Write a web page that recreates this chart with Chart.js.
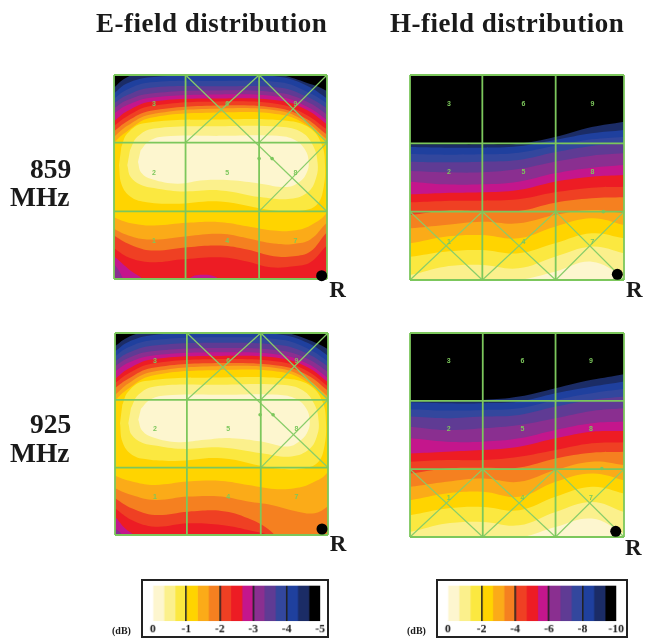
<!DOCTYPE html>
<html>
<head>
<meta charset="utf-8">
<script src="https://cdn.jsdelivr.net/npm/chart.js@4"></script>
<style>
html,body{margin:0;padding:0;background:#fff}
#page{position:relative;width:645px;height:639px;overflow:hidden;filter:blur(0.5px)}
#page canvas{position:absolute}
.t{position:absolute;font-family:"Liberation Serif",serif;font-weight:bold;color:#1a1a1a;white-space:nowrap;line-height:1}
.h{font-size:27px;letter-spacing:0.5px;top:10px}
.m{font-size:27.5px}
.box{box-sizing:border-box;border:2px solid #222}
</style>
</head>
<body>
<div id="page">
  <div class="t h" style="left:96px">E-field distribution</div>
  <div class="t h" style="left:390px">H-field distribution</div>
  <div class="t m" style="left:30px;top:155px">859</div>
  <div class="t m" style="left:10px;top:183px">MHz</div>
  <div class="t m" style="left:30px;top:410px">925</div>
  <div class="t m" style="left:10px;top:439px">MHz</div>
  <div class="t" style="left:112px;top:626px;font-size:10px">(dB)</div>
  <div class="t" style="left:407px;top:626px;font-size:10px">(dB)</div>
  <canvas id="e859" width="258" height="244" style="left:104px;top:65px"></canvas>
  <canvas id="h859" width="245" height="245" style="left:400px;top:65px"></canvas>
  <canvas id="e925" width="258" height="242" style="left:105px;top:323px"></canvas>
  <canvas id="h925" width="245" height="244" style="left:400px;top:323px"></canvas>
  <canvas id="legE" class="box" width="188" height="59" style="left:141px;top:579px"></canvas>
  <canvas id="legH" class="box" width="192" height="59" style="left:436px;top:579px"></canvas>
</div>
<script>
// colour bands, deepest first
const bandColors = ['#000000','#1b2c66','#1f409e','#33479d','#5f3b94','#8a2f90','#c4168c','#ed1c24','#ef4023','#f58020','#fbab18','#ffd400','#fbe840','#fbf08c','#fdf6cf'];

// legend
const legendColors = bandColors.slice().reverse();
const legendStepE = [0.333,0.333,0.333,0.333,0.333,0.333,0.333,0.333,0.333,0.333,0.333,0.333,0.333,0.333,0.333];
const legendStepH = [0.667,0.667,0.667,0.667,0.667,0.667,0.667,0.667,0.667,0.667,0.667,0.667,0.667,0.667,0.667];

// contour outlines, x,y pairs, outer level first
const e859Levels = [
 [-40,-40,-40,650,680,650,680,-40],
 [-40,-40,-40,540,0,572,30,598,70,614,320,650,490,614,570,590,640,562,680,525,680,-40],
 [-40,-40,-40,525,0,555,40,585,110,603,320,612,500,604,580,578,640,540,680,510,680,-40],
 [-40,-40,-40,510,0,540,40,567,110,588,320,592,500,588,580,560,640,525,680,490,680,-40],
 [-40,-40,-40,495,0,525,40,550,110,572,320,576,500,572,580,545,640,510,680,475,680,-40],
 [-40,-40,-40,480,0,510,40,535,110,555,320,564,500,556,580,530,640,492,680,460,680,-40],
 [40,-40,30,-5,0,45,-40,75,-40,470,0,495,40,520,110,542,320,552,500,544,580,515,640,475,680,440,680,-40],
 [90,-40,90,-5,50,25,0,68,-40,100,-40,450,0,472,40,502,110,530,320,540,500,533,580,505,640,462,680,430,680,-40,320,-40,315,0,265,13,225,0,220,-40],
 [-40,120,0,92,50,62,120,50,200,58,320,65,400,52,470,35,540,38,590,50,640,100,680,130,680,430,640,448,580,490,500,522,320,531,110,517,40,487,0,458,-40,430],
 [-40,160,0,130,60,98,120,85,220,95,320,100,400,88,480,68,540,68,590,82,640,140,680,170,680,410,640,432,580,478,500,510,320,519,110,503,40,472,0,442,-40,415],
 [-40,180,0,150,60,125,120,118,220,128,320,135,400,122,480,106,540,105,590,118,640,168,680,195,680,395,640,418,580,468,500,502,320,510,110,492,40,458,0,425,-40,395],
 [-40,290,-20,200,0,185,60,165,120,160,220,168,320,170,400,158,480,145,540,145,590,160,640,200,670,290,640,405,580,460,500,492,320,498,110,482,40,442,0,405,-25,350],
 [15,340,22,285,45,250,85,232,180,225,320,232,480,205,570,205,612,225,630,275,634,340,625,400,590,450,520,473,320,477,90,466,40,435,22,395],
 [40,340,50,305,80,282,120,272,200,262,320,265,440,245,530,240,585,262,608,305,612,345,600,395,565,438,500,455,320,457,120,450,70,425,48,385],
 [72,350,82,318,115,298,190,285,270,295,350,295,440,285,520,275,560,292,580,320,585,350,575,385,545,415,490,428,320,428,150,426,105,412,80,385]
];
const e925Levels = [
 [-40,-40,-40,650,680,650,680,-40],
 [-40,-40,-40,535,0,565,35,590,85,608,320,650,500,610,575,587,640,556,680,520,680,-40],
 [-40,-40,-40,520,0,550,40,578,110,598,320,610,500,600,580,575,640,537,680,505,680,-40],
 [-40,-40,-40,505,0,535,40,562,110,583,320,592,500,585,580,558,640,520,680,490,680,-40],
 [-40,-40,-40,490,0,520,40,546,110,567,320,576,500,568,580,542,640,505,680,475,680,-40],
 [-40,-40,-40,475,0,505,40,530,110,550,320,560,500,552,580,527,640,488,680,455,680,-40],
 [30,-40,25,-5,0,20,-40,50,-40,465,0,490,40,516,110,537,320,547,500,539,580,512,640,470,680,440,680,-40],
 [70,-40,60,-5,30,20,0,55,-40,90,-40,445,0,468,40,498,110,526,320,536,500,529,580,502,640,458,680,430,680,-40],
 [-40,110,0,80,50,45,120,25,220,35,320,30,400,15,470,-5,500,-40,680,-40,680,415,640,445,580,490,500,518,320,527,110,513,40,484,0,455,-40,425],
 [-40,135,0,110,50,80,120,60,220,70,320,72,400,50,470,10,510,-40,680,-40,680,400,640,432,580,478,500,506,320,515,110,500,40,468,0,440,-40,410],
 [-40,165,0,140,50,120,120,105,220,115,320,115,400,100,470,90,540,72,600,65,640,85,680,110,680,385,640,415,580,465,500,498,320,506,110,488,40,454,0,420,-40,390],
 [-40,290,-20,195,0,178,60,158,120,150,220,160,320,162,400,150,480,138,540,140,590,155,640,190,670,290,640,400,580,456,500,488,320,494,110,477,40,438,0,400,-25,345],
 [15,335,22,280,45,245,85,228,180,222,320,230,480,200,570,200,612,220,630,270,634,335,625,395,590,445,520,468,320,472,90,461,40,430,22,390],
 [40,335,50,300,80,277,120,268,200,258,320,262,440,245,530,235,585,258,608,300,612,340,600,390,565,433,500,450,320,450,120,445,70,420,48,380],
 [70,345,82,312,115,292,190,278,270,285,350,290,440,280,520,265,560,285,580,312,585,343,575,378,545,407,490,420,320,420,150,418,105,405,78,378]
];

// H-field bands run left to right, so only the upper edge of each is needed
const h859X = [-30,0,105,215,325,435,545,642,672];
const h859Levels = [
 [700,700,700,700,700,700,700,700,700],
 [407,407,407,407,409,429,459,475,482],
 [399,399,397,397,401,420,440,450,455],
 [378,378,376,377,382,403,422,430,435],
 [355,355,353,355,360,383,402,410,414],
 [327,327,323,323,333,355,373,380,384],
 [295,295,287,287,295,320,337,345,348],
 [257,257,261,263,270,295,310,315,318],
 [233,233,237,238,242,263,277,280,282],
 [195,195,208,207,207,232,245,248,248],
 [155,155,165,175,170,195,210,200,195],
 [110,110,130,135,125,160,185,165,158],
 [70,70,85,90,80,110,140,125,118],
 [15,15,40,45,35,70,100,80,72],
 [-25,-20,-10,-5,0,25,55,10,-5]
];
const h925X = [-30,0,110,220,330,440,550,647,677];
const h925Levels = [
 [700,700,700,700,700,700,700,700,700],
 [410,410,410,410,420,445,470,487,495],
 [403,403,400,400,405,430,450,465,472],
 [382,382,378,380,385,410,430,443,448],
 [360,360,355,360,365,390,410,420,424],
 [330,330,320,325,335,355,377,385,388],
 [295,295,285,285,295,320,340,345,348],
 [250,250,255,260,270,295,315,317,319],
 [225,225,230,230,240,260,280,283,285],
 [190,190,205,207,208,235,252,255,257],
 [150,150,165,175,165,200,225,215,210],
 [110,110,130,135,120,165,190,170,162],
 [65,65,85,90,80,120,150,130,122],
 [15,15,40,45,35,75,105,75,65],
 [-25,-20,-10,-5,-2,30,55,10,-5]
];

// mesh lines: x1,y1,x2,y2
const e859Grid = [[215,0,215,610],[436,0,436,610],[0,408,640,408],[0,202,640,202],[0,0,640,0],[0,610,640,610],[0,0,0,610],[640,0,640,610]];
const e859Diag = [[215,610,640,202],[436,610,215,408],[436,610,640,408],[640,610,436,408],[640,408,436,202]];
const e925Grid = [[216,0,216,605],[438,0,438,605],[0,405,640,405],[0,202,640,202],[0,0,640,0],[0,605,640,605],[0,0,0,605],[640,0,640,605]];
const e925Diag = [[216,605,640,202],[438,605,216,405],[438,605,640,405],[640,605,438,405],[640,405,438,202]];
const h859Grid = [[217,0,217,615],[437,0,437,615],[0,410,642,410],[0,205,642,205],[0,0,642,0],[0,615,642,615],[0,0,0,615],[642,0,642,615]];
const h859Diag = [[0,205,217,0],[0,0,217,205],[217,205,437,0],[217,0,437,205],[437,205,642,0],[437,0,642,205]];
const h925Grid = [[220,0,220,610],[440,0,440,610],[0,407,647,407],[0,203,647,203],[0,0,647,0],[0,610,647,610],[0,0,0,610],[647,0,647,610]];
const h925Diag = [[0,203,220,0],[0,0,220,203],[220,203,440,0],[220,0,440,203],[440,203,647,0],[440,0,647,203]];

// small element numbers in the cells
const cellNames = ['3','6','9','2','5','8','1','4','7'];
const eCells = [[120,522],[340,522],[545,522],[120,318],[340,318],[545,318],[120,113],[340,113],[545,113]];
const hCells = [[117,527],[340,527],[547,527],[117,323],[340,323],[547,323],[117,115],[340,115],[547,115]];
const eExtra = [[436,360],[475,360]];
const hExtra = [[580,205]];

const GREEN = '#7cc75c';

function pairs(list){
  const out = [];
  for(let i=0;i<list.length;i+=2) out.push({x:list[i],y:list[i+1]});
  return out;
}
function lineSet(seg,width,color){
  return {data:[{x:seg[0],y:seg[1]},{x:seg[2],y:seg[3]}],showLine:true,borderColor:color,borderWidth:width,pointRadius:0,fill:false,clip:false};
}

// cell numbers and the R marker, placed through the scales
const textPlugin = {
  id:'panelText',
  afterDatasetsDraw(chart,args,opts){
    const c = chart.ctx, sx = chart.scales.x, sy = chart.scales.y;
    c.save();
    c.textAlign='center'; c.textBaseline='middle';
    c.font='bold 7px "Liberation Sans"';
    c.fillStyle=GREEN;
    opts.cells.forEach((p,i)=>c.fillText(cellNames[i],sx.getPixelForValue(p[0]),sy.getPixelForValue(p[1])));
    c.font='bold 23px "Liberation Serif"';
    c.fillStyle='#1a1a1a';
    c.fillText('R',sx.getPixelForValue(opts.r[0]),sy.getPixelForValue(opts.r[1]));
    c.restore();
  }
};

function panel(id,xMax,yMax,shapes,grid,diag,cells,extra,dot,r){
  const sets = [];
  sets.push({data:[{x:dot[0],y:dot[1]}],pointRadius:5.5,pointBackgroundColor:'#000',pointBorderWidth:0,clip:false});
  sets.push({data:extra.map(p=>({x:p[0],y:p[1]})),pointRadius:1.8,pointBackgroundColor:GREEN,pointBorderWidth:0});
  grid.forEach(s=>sets.push(lineSet(s,1.8,GREEN)));
  diag.forEach(s=>sets.push(lineSet(s,1.2,'#88cd69')));
  // later datasets paint first, so the outermost level goes last
  shapes.slice().reverse().forEach(s=>sets.push(s));
  new Chart(document.getElementById(id),{
    type:'scatter',
    data:{datasets:sets},
    plugins:[textPlugin],
    options:{
      responsive:false,animation:false,
      layout:{padding:{left:10,top:10,right:id[0]=='e'?35:21,bottom:30}},
      elements:{line:{capBezierPoints:false}},
      plugins:{legend:{display:false},tooltip:{enabled:false},panelText:{cells:cells,r:r}},
      scales:{
        x:{type:'linear',min:0,max:xMax,display:false},
        y:{type:'linear',min:0,max:yMax,display:false}
      }
    }
  });
}
function eShapes(levels){
  return levels.map((l,i)=>({data:pairs(l),showLine:true,tension:0.4,borderWidth:0,pointRadius:0,fill:'shape',backgroundColor:bandColors[i],borderColor:bandColors[i]}));
}
function hShapes(xs,levels){
  return levels.map((l,i)=>({data:l.map((v,k)=>({x:xs[k],y:v})),showLine:true,tension:0.4,borderWidth:0,pointRadius:0,fill:'start',backgroundColor:bandColors[i],borderColor:bandColors[i]}));
}
panel('e859',640,610,eShapes(e859Levels),e859Grid,e859Diag,eCells,eExtra,[624,10],[672,-35]);
panel('h859',642,615,hShapes(h859X,h859Levels),h859Grid,h859Diag,hCells,hExtra,[622,17],[673,-33]);
panel('e925',640,605,eShapes(e925Levels),e925Grid,e925Diag,eCells,eExtra,[622,18],[670,-30]);
panel('h925',647,610,hShapes(h925X,h925Levels),h925Grid,h925Diag,hCells,hExtra,[622,17],[675,-35]);

function legend(id,steps,maxDb,tickStep){
  new Chart(document.getElementById(id),{
    type:'bar',
    data:{labels:['dB'],datasets:steps.map((v,i)=>({data:[v],backgroundColor:legendColors[i],barPercentage:1,categoryPercentage:1}))},
    options:{
      indexAxis:'y',responsive:false,animation:false,
      layout:{padding:{left:10,right:7,top:5,bottom:0}},
      plugins:{legend:{display:false},tooltip:{enabled:false}},
      scales:{
        y:{stacked:true,display:false},
        x:{stacked:true,min:0,max:maxDb,
          afterFit(s){s.height=16;},
          border:{display:false},
          grid:{z:1,drawTicks:false,lineWidth:1.6,color:c=>(c.tick.value==0||c.tick.value==maxDb)?'rgba(0,0,0,0)':'#222'},
          ticks:{stepSize:tickStep,maxRotation:0,autoSkip:false,padding:2,color:'#1a1a1a',font:{family:'"Liberation Serif"',weight:'bold',size:12},callback:v=>v==0?'0':'-'+v}
        }
      }
    }
  });
}
legend('legE',legendStepE,5,1);
legend('legH',legendStepH,10,2);
</script>
</body>
</html>
